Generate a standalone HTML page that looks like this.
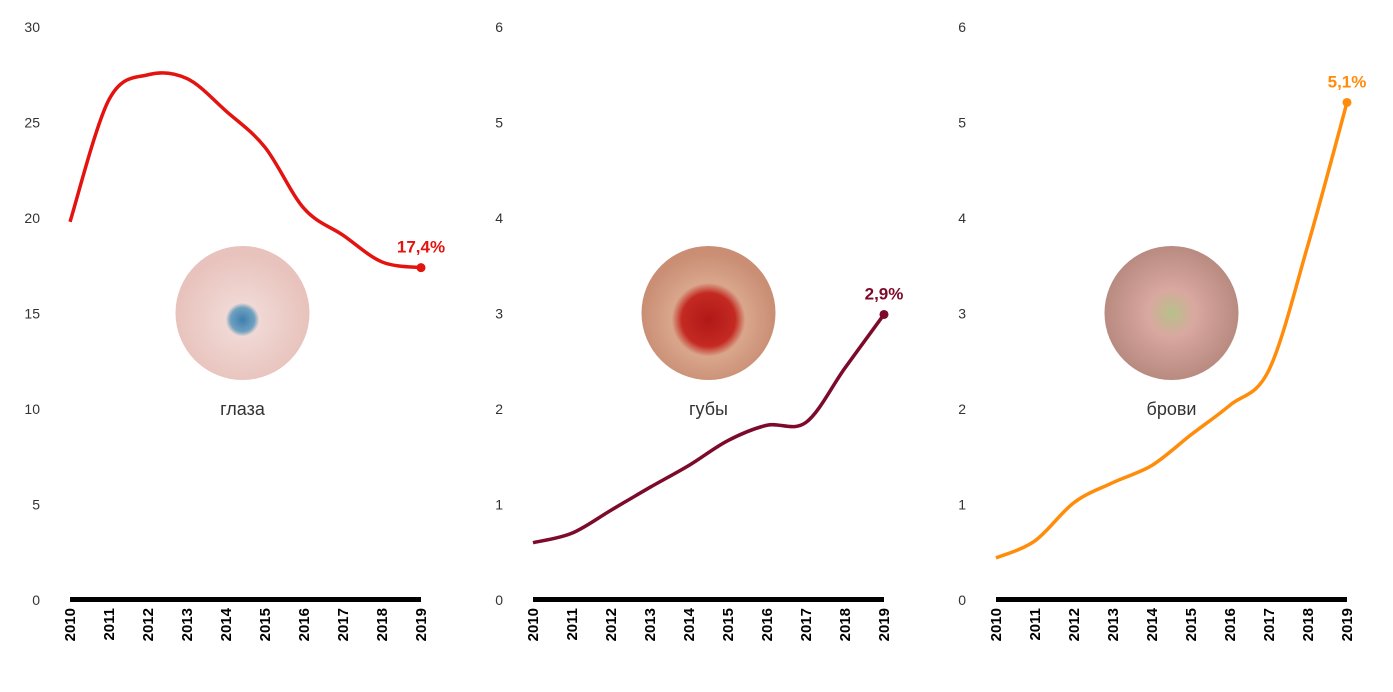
<!DOCTYPE html>
<html><head><meta charset="utf-8">
<style>
body{margin:0;background:#fff;width:1393px;height:687px;overflow:hidden;font-family:"Liberation Sans","DejaVu Sans",sans-serif;}
svg text{font-family:"Liberation Sans","DejaVu Sans",sans-serif;}
</style></head>
<body>
<svg id="chart" width="1393" height="687" xmlns="http://www.w3.org/2000/svg">
<defs>
<radialGradient id="g-eye" cx="50%" cy="55%" r="50%"><stop offset="0" stop-color="#3d7fae"/><stop offset="0.18" stop-color="#6fa0c0"/><stop offset="0.25" stop-color="#f0d8d4"/><stop offset="1" stop-color="#e8c2bc"/></radialGradient>
<radialGradient id="g-lips" cx="50%" cy="55%" r="50%"><stop offset="0" stop-color="#b01818"/><stop offset="0.4" stop-color="#c42a22"/><stop offset="0.55" stop-color="#d9a68c"/><stop offset="1" stop-color="#c98e74"/></radialGradient>
<radialGradient id="g-brow" cx="50%" cy="50%" r="50%"><stop offset="0" stop-color="#b7c08a"/><stop offset="0.35" stop-color="#d9a8a0"/><stop offset="1" stop-color="#b88a80"/></radialGradient>
</defs>
</svg>
<script>
const years = ["2010","2011","2012","2013","2014","2015","2016","2017","2018","2019"];
const eyesValues = [19.8,26.2,27.5,27.3,25.6,23.7,20.5,19.1,17.7,17.4];
const lipsValues = [0.6,0.7,0.94,1.18,1.41,1.67,1.83,1.86,2.43,2.99];
const browsValues = [0.44,0.62,1.02,1.23,1.41,1.73,2.04,2.41,3.72,5.21];
const eyesTicks = [0,5,10,15,20,25,30];
const smallTicks = [0,1,2,3,4,5,6];
const panelLabels = ["глаза","губы","брови"];
const endLabels = ["17,4%","2,9%","5,1%"];

const NS="http://www.w3.org/2000/svg";
const svg=document.getElementById('chart');
function mk(tag,attrs,parent){const e=document.createElementNS(NS,tag);for(const k in attrs)e.setAttribute(k,attrs[k]);(parent||svg).appendChild(e);return e;}

const panels=[
 {x0:70,x1:421,max:30,ticks:eyesTicks,vals:eyesValues,color:"#e3130f",tickX:40,img:"g-eye",key:"eyes"},
 {x0:533,x1:884,max:6,ticks:smallTicks,vals:lipsValues,color:"#7d0a2a",tickX:503,img:"g-lips",key:"lips"},
 {x0:996,x1:1347,max:6,ticks:smallTicks,vals:browsValues,color:"#ff8c0a",tickX:966,img:"g-brow",key:"brows"}
];
const yTop=27,yBot=600;

panels.forEach((p,pi)=>{
  const g=mk('g',{});
  
  
  const xS=i=>p.x0+(p.x1-p.x0)*i/(years.length-1);
  const yS=v=>yBot-(yBot-yTop)*v/p.max;
  p.ticks.forEach(t=>{
    const tx=mk('text',{x:p.tickX,y:yS(t)+5,'text-anchor':'end','font-size':14,fill:'#333'},g);
    tx.textContent=t;
    
    
  });
  const ax=mk('rect',{x:p.x0,y:597,width:p.x1-p.x0,height:5,fill:'#000'},g);
  
  
  years.forEach((yr,i)=>{
    const tx=mk('text',{x:0,y:0,'text-anchor':'end','font-size':15,'font-weight':'bold',fill:'#000',transform:`translate(${xS(i)+5},608) rotate(-90)`},g);
    tx.textContent=yr;
    
    
  });
  // image placeholder
  const cx=(p.x0+p.x1)/2+(pi===0?-3:0);
  const c=mk('circle',{cx:cx,cy:313,r:67,fill:`url(#${p.img})`},g);
  
  
  const lb=mk('text',{x:cx,y:415,'text-anchor':'middle','font-size':18,fill:'#333'},g);
  lb.textContent=panelLabels[pi];
  
  
  // line catmull-rom
  const pts=p.vals.map((v,i)=>[xS(i),yS(v)]);
  let d=`M${pts[0][0]},${pts[0][1]}`;
  for(let i=0;i<pts.length-1;i++){
    const p0=pts[Math.max(0,i-1)],p1=pts[i],p2=pts[i+1],p3=pts[Math.min(pts.length-1,i+2)];
    const c1=[p1[0]+(p2[0]-p0[0])/6,p1[1]+(p2[1]-p0[1])/6];
    const c2=[p2[0]-(p3[0]-p1[0])/6,p2[1]-(p3[1]-p1[1])/6];
    d+=` C${c1[0]},${c1[1]} ${c2[0]},${c2[1]} ${p2[0]},${p2[1]}`;
  }
  const ln=mk('path',{d:d,fill:'none',stroke:p.color,'stroke-width':3.5},g);
  
  
  const last=pts[pts.length-1];
  const dot=mk('circle',{cx:last[0],cy:last[1],r:4.5,fill:p.color},g);
  
  
  const el=mk('text',{x:last[0],y:last[1]-15,'text-anchor':'middle','font-size':17,'font-weight':'bold',fill:p.color},g);
  el.textContent=endLabels[pi];
  
  
});
</script>
</body></html>
